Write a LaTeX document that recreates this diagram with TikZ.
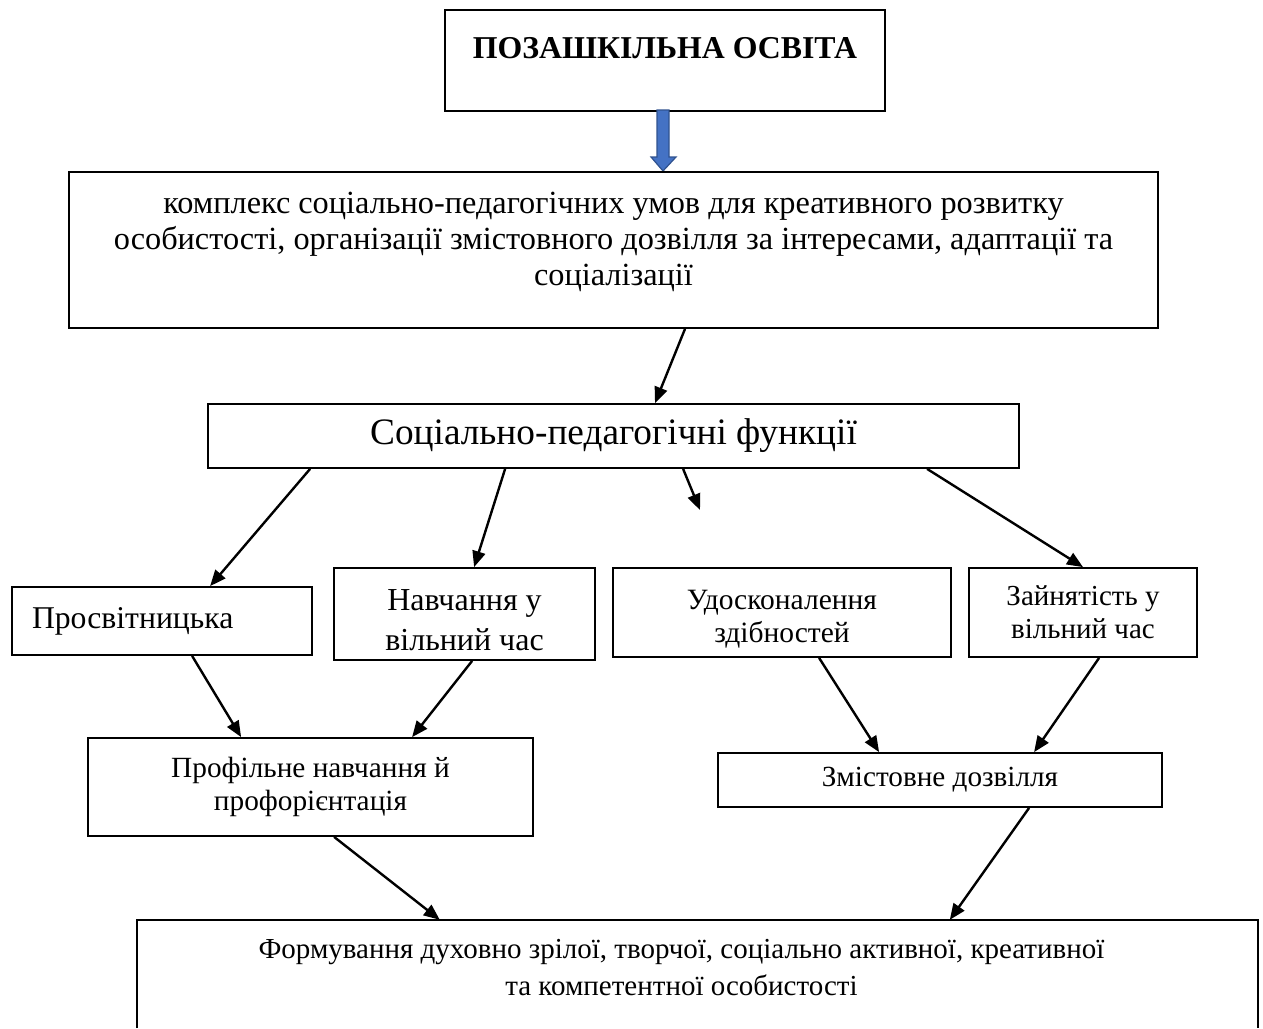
\documentclass[tikz,border=0pt]{standalone}
\usepackage{fontspec}
\setmainfont{Liberation Serif}
\usetikzlibrary{arrows.meta,calc}
\definecolor{blueA}{RGB}{68,114,196}
\definecolor{blueB}{RGB}{47,82,143}
\begin{document}
\begin{tikzpicture}[x=1pt,y=-1pt,
  box/.style={draw, line width=1.8pt, inner sep=0pt, align=center},
  arr/.style={line width=2.4pt, -{Triangle[length=16pt,width=13pt]}}]
\useasboundingbox (0,0) rectangle (1263,1028);
% title
\node[box, minimum width=440pt, anchor=north, text height=49pt, text depth=52pt,
      font=\bfseries\fontsize{31.8}{34}\selectfont] (title) at (665,9) {ПОЗАШКІЛЬНА ОСВІТА};
% blue arrow
\draw[fill=blueA, draw=blueB, line width=1.2pt]
  (657,110) -- (657,157) -- (651,157) -- (663,171) -- (676,157) -- (669,157) -- (669,110) -- cycle;
% conditions box
\node[box, minimum width=1089pt, minimum height=156pt] (cond) at (613.5,250) {};
\node[align=center, inner sep=0pt, font=\fontsize{32.3}{36}\selectfont] (condtext) at (613.5,242)
  {комплекс соціально-педагогічних умов для креативного розвитку\\
   особистості, організації змістовного дозвілля за інтересами, адаптації та\\
   соціалізації};
% functions
\node[box, minimum width=811pt, minimum height=64pt, font=\fontsize{37.3}{44}\selectfont] (func) at (613.5,436) {Соціально-педагогічні функції};
% four functions
\node[box, minimum width=300pt, minimum height=68pt, text width=260pt, align=left, font=\fontsize{31.7}{36}\selectfont] (prosv) at (162,621) {Просвітницька};
\node[box, minimum width=261pt, minimum height=92pt, font=\fontsize{32}{40}\selectfont] (nav) at (464.5,614) {\rule{0pt}{34pt}Навчання у\\вільний час};
\node[box, minimum width=338pt, minimum height=89pt, font=\fontsize{29.5}{33}\selectfont] (udos) at (782,612.5) {\rule{0pt}{33pt}Удосконалення\\здібностей};
\node[box, minimum width=228pt, minimum height=89pt, font=\fontsize{29}{33}\selectfont] (zayn) at (1083,612.5) {Зайнятість у\\вільний час};
% second level
\node[box, minimum width=445pt, minimum height=98pt, font=\fontsize{29.3}{33}\selectfont] (prof) at (310.5,787) {Профільне навчання й\\профорієнтація};
\node[box, minimum width=444pt, minimum height=54pt, font=\fontsize{29.2}{33}\selectfont] (zmist) at (940,780) {Змістовне дозвілля};
% bottom box (open at the bottom)
\node[minimum width=1121pt, minimum height=108pt, inner sep=0pt] (bot) at (697.5,974) {};
\draw[line width=1.8pt] (bot.south west) -- (bot.north west) -- (bot.north east) -- (bot.south east);
\node[align=center, inner sep=0pt, font=\fontsize{29}{37}\selectfont] (bottext) at (681.5,968)
  {Формування духовно зрілої, творчої, соціально активної, креативної\\
   та компетентної особистості};
% connectors
\coordinate (free) at (700,510);
\draw[arr] ([xshift=71.5pt]cond.south) -- ([xshift=41.5pt]func.north);
\draw[arr] ([xshift=103pt]func.south west) -- ([xshift=199pt]prosv.north west);
\draw[arr] ([xshift=298pt]func.south west) -- ([xshift=141pt]nav.north west);
\draw[arr] ([xshift=476pt]func.south west) -- (free);
\draw[arr] ([xshift=720pt]func.south west) -- (zayn.north);
\draw[arr] ([xshift=181pt]prosv.south west) -- ([xshift=154pt]prof.north west);
\draw[arr] ([xshift=139pt]nav.south west) -- ([xshift=325pt]prof.north west);
\draw[arr] ([xshift=207pt]udos.south west) -- ([xshift=162pt]zmist.north west);
\draw[arr] ([xshift=131pt]zayn.south west) -- ([xshift=317pt]zmist.north west);
\draw[arr] ([xshift=247pt]prof.south west) -- ([xshift=303pt]bot.north west);
\draw[arr] ([xshift=312pt]zmist.south west) -- ([xshift=813pt]bot.north west);
\end{tikzpicture}
\end{document}
